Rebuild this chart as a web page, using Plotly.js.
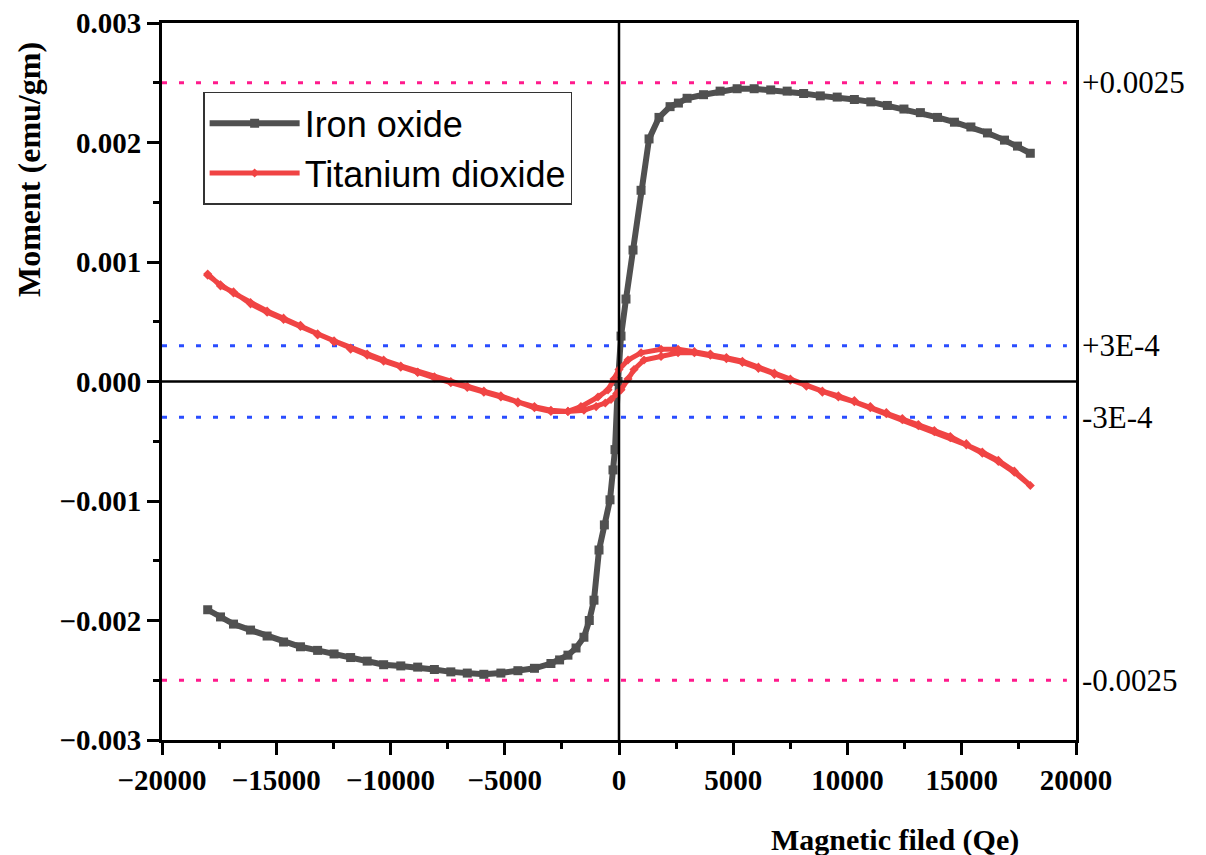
<!DOCTYPE html>
<html>
<head>
<meta charset="utf-8">
<script src="https://cdn.plot.ly/plotly-3.0.1.min.js"></script>
<style>html,body{margin:0;padding:0;background:#fff;}#chart{width:1206px;height:855px;}</style>
</head>
<body>
<div id="chart"></div>
<script>
// Iron oxide (field in Oe, moment in emu/gm)
const ironField = [-18000,-17440,-16870,-16125,-15400,-14680,-13940,-13190,-12470,-11745,-11020,-10300,-9550,-8810,-8080,-7360,-6640,-5915,-5170,-4425,-3700,-2980,-2600,-2235,-1880,-1535,-1300,-1095,-875,-640,-394,-263,-175,-44,88,306,613,965,1315,1750,2235,2600,2980,3700,4425,5170,5915,6640,7360,8080,8810,9550,10300,11020,11745,12470,13190,13940,14680,15400,16125,16870,17440,18000];
const ironMoment = [-0.00191,-0.00197,-0.00203,-0.00208,-0.00213,-0.00218,-0.00222,-0.00225,-0.00228,-0.00231,-0.00234,-0.00237,-0.00238,-0.00239,-0.00241,-0.00243,-0.00244,-0.00245,-0.00244,-0.00242,-0.00240,-0.00236,-0.00233,-0.00229,-0.00223,-0.00214,-0.00200,-0.00183,-0.00141,-0.00120,-0.00099,-0.00074,-0.00057,0.0,0.00038,0.00069,0.00110,0.00160,0.00203,0.00221,0.00230,0.00233,0.00237,0.00240,0.00243,0.00245,0.00245,0.00244,0.00243,0.00241,0.00239,0.00238,0.00236,0.00234,0.00231,0.00228,0.00225,0.00221,0.00217,0.00213,0.00208,0.00202,0.00197,0.00191];

// Titanium dioxide: ascending branch then descending branch
const tiField = [-18000,-17440,-16870,-16125,-15400,-14680,-13940,-13190,-12470,-11745,-11020,-10300,-9550,-8810,-8080,-7360,-6640,-5915,-5170,-4425,-3700,-2980,-2235,-1535,-1000,-600,-350,-100,88,394,657,1095,1840,2585,3300,4000,4700,5400,6100,6800,7500,8200,8900,9600,10300,11000,11700,12400,13100,13800,14500,15200,15900,16600,17300,18000,
  17300,16600,15900,15200,14500,13800,13100,12400,11700,11000,10300,9600,8900,8200,7500,6800,6100,5400,4700,4000,3300,2585,1840,965,394,0,-220,-480,-920,-1665,-2235,-2980,-3700,-4425,-5170,-5915,-6640,-7360,-8080,-8810,-9550,-10300,-11020,-11745,-12470,-13190,-13940,-14680,-15400,-16125,-16870,-17440,-18000];
const tiMoment = [0.00090,0.00080,0.00075,0.00065,0.00058,0.00052,0.00046,0.00039,0.00033,0.00027,0.00022,0.00017,0.00012,0.000075,0.00003,-0.00001,-0.00005,-0.00009,-0.00013,-0.00018,-0.00021,-0.00024,-0.00025,-0.00024,-0.00021,-0.00018,-0.00015,-0.00010,-0.00007,0.00002,0.00010,0.00018,0.00021,0.00024,0.00024,0.00022,0.00019,0.00016,0.00011,0.00006,0.00001,-0.00004,-0.00009,-0.00013,-0.00017,-0.00022,-0.00027,-0.00032,-0.00037,-0.00042,-0.00047,-0.00053,-0.00059,-0.00066,-0.00075,-0.00087,
  -0.00076,-0.00067,-0.00060,-0.00052,-0.00046,-0.00041,-0.00036,-0.00031,-0.00026,-0.00021,-0.00016,-0.00012,-0.00008,-0.00003,0.00002,0.00007,0.00012,0.00017,0.00020,0.00023,0.00025,0.00027,0.00027,0.00024,0.00018,0.00010,0.00002,-0.00007,-0.00013,-0.00021,-0.00025,-0.00025,-0.00022,-0.00017,-0.00012,-0.00008,-0.00004,0.0,0.00004,0.00008,0.00013,0.00018,0.00023,0.00028,0.00034,0.00040,0.00047,0.00053,0.00059,0.00066,0.00074,0.00081,0.00089];

const refLevels = [0.0025, 0.0003, -0.0003, -0.0025];
const refLabels = ['+0.0025', '+3E-4', '-3E-4', '-0.0025'];
const refColors = ['#ff1a8c', '#2a4dff', '#2a4dff', '#ff1a8c'];

const serif = 'Liberation Serif, Times New Roman, serif';

const traces = [
  {x: ironField, y: ironMoment, name: 'Iron oxide', type: 'scatter', mode: 'lines+markers',
   line: {color: '#505050', width: 6}, marker: {symbol: 'square', size: 9, color: '#505050'}},
  {x: tiField, y: tiMoment, name: 'Titanium dioxide', type: 'scatter', mode: 'lines+markers',
   line: {color: '#f04444', width: 5}, marker: {symbol: 'diamond', size: 7, color: '#f04444'}}
];

const shapes = [];
const annotations = [];
refLevels.forEach((v, i) => {
  shapes.push({type: 'line', xref: 'x', yref: 'y', x0: -20000, x1: 19600, y0: v, y1: v,
    line: {color: refColors[i], width: 3, dash: '5px,12px'}, layer: 'below'});
  annotations.push({xref: 'paper', yref: 'y', x: 1.004, y: v, xanchor: 'left', yanchor: 'middle',
    text: refLabels[i], showarrow: false, font: {family: serif, size: 31, color: '#000'}});
});
shapes.push({type: 'line', xref: 'x', yref: 'y', x0: -20000, x1: 20000, y0: 0, y1: 0,
  line: {color: '#000', width: 2.5}, layer: 'above'});
shapes.push({type: 'line', xref: 'x', yref: 'y', x0: 0, x1: 0, y0: -0.003, y1: 0.003,
  line: {color: '#000', width: 2.5}, layer: 'above'});

annotations.push({xref: 'paper', yref: 'paper', x: -0.1455, y: 0.795, textangle: -90,
  text: 'Moment (emu/gm)', showarrow: false, xanchor: 'center', yanchor: 'middle',
  font: {family: serif, size: 32, color: '#000', weight: 'bold'}});
annotations.push({xref: 'paper', yref: 'paper', x: 0.802, y: -0.139,
  text: 'Magnetic filed (Qe)', showarrow: false, xanchor: 'center', yanchor: 'middle',
  font: {family: serif, size: 30, color: '#000', weight: 'bold'}});

const axisCommon = {
  showgrid: false, zeroline: false, showline: true, linecolor: '#000', linewidth: 3,
  mirror: true, ticks: 'outside', ticklen: 12, tickwidth: 3, tickcolor: '#000',
  tickfont: {family: serif, size: 29, color: '#000', weight: 'bold'}
};

const layout = {
  width: 1206, height: 855,
  margin: {l: 162, r: 130, t: 23, b: 115},
  paper_bgcolor: '#fff', plot_bgcolor: '#fff',
  showlegend: true,
  legend: {x: 0.045, y: 0.904, xanchor: 'left', yanchor: 'top', bgcolor: '#fff',
    bordercolor: '#333', borderwidth: 1.5, itemwidth: 90, tracegroupgap: 0,
    font: {family: 'Liberation Sans, Arial, sans-serif', size: 36, color: '#000'}},
  xaxis: Object.assign({}, axisCommon, {range: [-20000, 20000], dtick: 5000, tick0: 0, tickformat: 'd',
    minor: {dtick: 2500, ticks: 'outside', ticklen: 6, tickwidth: 3, tickcolor: '#000'}}),
  yaxis: Object.assign({}, axisCommon, {range: [-0.003, 0.003], dtick: 0.001, tick0: 0, tickformat: '.3f',
    minor: {dtick: 0.0005, ticks: 'outside', ticklen: 6, tickwidth: 3, tickcolor: '#000'}}),
  shapes: shapes,
  annotations: annotations
};

Plotly.newPlot('chart', traces, layout, {displayModeBar: false, staticPlot: true});
</script>
</body>
</html>
